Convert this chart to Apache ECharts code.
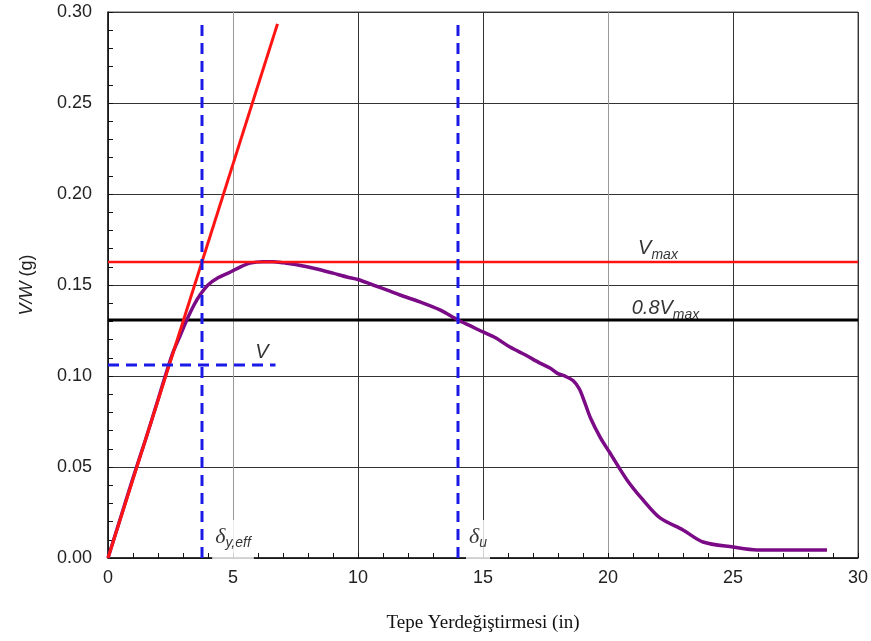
<!DOCTYPE html>
<html>
<head>
<meta charset="utf-8">
<script src="https://cdn.jsdelivr.net/npm/echarts@6/dist/echarts.min.js"></script>
<style>
  html, body { margin: 0; padding: 0; background: #fff; }
  #chart { width: 871px; height: 641px; }
</style>
</head>
<body>
<div id="chart"></div>
<script>
// pushover curve (tepe yerdegistirmesi vs V/W)
const curveX = [0, 0.5, 1.0, 1.5, 2.0, 2.36, 2.6, 2.88, 3.16, 3.44, 3.68, 4.0, 4.4, 4.88, 5.3, 5.68, 6.2, 6.6, 7.0, 7.6, 8.36, 9.0, 9.56, 10.0, 10.6, 11.2, 11.68, 12.48, 13.28, 14.0, 14.5, 15.0, 15.5, 16.08, 16.7, 17.28, 17.68, 17.96, 18.3, 18.6, 18.85, 19.05, 19.3, 19.7, 20.08, 20.76, 21.4, 22.08, 23.0, 23.8, 25.0, 25.96, 27.0, 28.76]
const curveY = [0, 0.022, 0.044, 0.065, 0.087, 0.103, 0.113, 0.122, 0.131, 0.139, 0.1445, 0.150, 0.154, 0.157, 0.160, 0.162, 0.1628, 0.1628, 0.1622, 0.161, 0.1588, 0.1565, 0.1544, 0.153, 0.150, 0.147, 0.1445, 0.1407, 0.1363, 0.1308, 0.1275, 0.1242, 0.121, 0.1159, 0.1115, 0.1071, 0.1044, 0.1016, 0.0998, 0.0975, 0.093, 0.0862, 0.0769, 0.066, 0.0577, 0.0429, 0.0319, 0.022, 0.0154, 0.0088, 0.006, 0.0044, 0.0044, 0.0044]

// idealized lines
const elasticLine = [[0, 0], [6.78, 0.2935]]
const vmax = 0.1626
const vmax08 = 0.1308
const deltaYeff = 3.76
const deltaU = 14.0
const vLevel = 0.106
const vLineEnd = 6.7
const dashTop = 0.293

// annotations: x, y, text
const annX = [6.16, 22.0, 22.3]
const annY = [0.113, 0.169, 0.136]
const annText = ['{i|V}', '{i|V}{s|max}', '{i|0.8V}{s|max}']

// displacement labels (sit on a white box over the grid)
const dispX = [5.0, 14.8]
const dispY = [0.0099, 0.0099]
const dispText = ['{d|δ}{s|y,eff}', '{d|δ}{s|u}']

function pairs(xs, ys) {
    let out = []
    for (let i = 0; i < xs.length; i++) {
        out.push([xs[i], ys[i]])
    }
    return out
}

function labelItems(xs, ys, texts) {
    let out = []
    for (let i = 0; i < xs.length; i++) {
        out.push({ value: [xs[i], ys[i]], label: { formatter: texts[i] } })
    }
    return out
}

const red = '#ff1414'
const blue = '#1a1ae6'
const purple = '#7b0a86'

const richText = {
    i: { fontFamily: 'Liberation Sans', fontStyle: 'italic', fontSize: 20, verticalAlign: 'top', color: '#000' },
    d: { fontFamily: 'Liberation Serif', fontStyle: 'italic', fontSize: 22, verticalAlign: 'top', color: '#000' },
    s: { fontFamily: 'Liberation Sans', fontStyle: 'italic', fontSize: 14, verticalAlign: 'top', padding: [10, 0, 0, 0], color: '#000' }
}

option = {
    animation: false,
    backgroundColor: '#fff',
    grid: {
        left: 108,
        right: 13,
        top: 12,
        bottom: 83,
        show: true,
        borderColor: '#555',
        borderWidth: 1
    },
    xAxis: {
        type: 'value',
        min: 0,
        max: 30,
        interval: 5,
        name: 'Tepe Yerdeğiştirmesi (in)',
        nameLocation: 'middle',
        nameGap: 56,
        nameTextStyle: { fontFamily: 'Liberation Serif', fontSize: 19, color: '#111' },
        axisLine: { onZero: false, lineStyle: { color: '#111', width: 1.5 } },
        axisTick: { inside: true, length: 5, lineStyle: { color: '#111' } },
        minorTick: { show: true, splitNumber: 5, length: 5, lineStyle: { color: '#111' } },
        axisLabel: { fontFamily: 'Liberation Sans', fontSize: 18, color: '#222', margin: 11 },
        splitLine: {
            show: true,
            lineStyle: { color: ['#333', '#999', '#333', '#333', '#999', '#333', '#333'], width: 1 }
        }
    },
    yAxis: {
        type: 'value',
        min: 0,
        max: 0.3,
        interval: 0.05,
        name: '{i|V/W} (g)',
        nameLocation: 'middle',
        nameGap: 72,
        nameTextStyle: {
            fontFamily: 'Liberation Sans', fontSize: 18, color: '#222',
            rich: { i: { fontFamily: 'Liberation Sans', fontStyle: 'italic', fontSize: 18, color: '#222' } }
        },
        axisLine: { show: true, lineStyle: { color: '#111', width: 1.5 } },
        axisTick: { inside: true, length: 5, lineStyle: { color: '#111' } },
        minorTick: { show: true, splitNumber: 5, length: 5, lineStyle: { color: '#111' } },
        axisLabel: {
            fontFamily: 'Liberation Sans', fontSize: 18, color: '#222', margin: 16,
            formatter: function (v) { return v.toFixed(2) }
        },
        splitLine: { show: true, lineStyle: { color: '#333', width: 1 } }
    },
    series: [
        {
            name: 'pushover',
            type: 'line',
            data: pairs(curveX, curveY),
            showSymbol: false,
            smooth: 0.3,
            lineStyle: { color: purple, width: 3.5 },
            z: 3
        },
        {
            name: 'Vmax',
            type: 'line',
            data: [[0, vmax], [30, vmax]],
            showSymbol: false,
            lineStyle: { color: red, width: 2.5 },
            z: 4
        },
        {
            name: '0.8Vmax',
            type: 'line',
            data: [[0, vmax08], [30, vmax08]],
            showSymbol: false,
            lineStyle: { color: '#000', width: 3 },
            z: 2
        },
        {
            name: 'elastic',
            type: 'line',
            data: elasticLine,
            showSymbol: false,
            lineStyle: { color: red, width: 3 },
            z: 5
        },
        {
            name: 'labels',
            type: 'scatter',
            symbolSize: 0,
            data: labelItems(annX, annY, annText),
            label: {
                show: true,
                position: 'inside',
                color: '#000',
                rich: richText
            },
            z: 7
        },
        {
            name: 'dispLabels',
            type: 'scatter',
            symbolSize: 0,
            data: labelItems(dispX, dispY, dispText),
            label: {
                show: true,
                position: 'inside',
                color: '#000',
                backgroundColor: '#fff',
                padding: [6, 3, 10, 3],
                rich: richText
            },
            z: 5
        },
        {
            name: 'dyeff',
            type: 'line',
            data: [[deltaYeff, 0], [deltaYeff, dashTop]],
            showSymbol: false,
            lineStyle: { color: blue, width: 3, type: [11, 7] },
            z: 8
        },
        {
            name: 'du',
            type: 'line',
            data: [[deltaU, 0], [deltaU, dashTop]],
            showSymbol: false,
            lineStyle: { color: blue, width: 3, type: [11, 7] },
            z: 8
        },
        {
            name: 'V',
            type: 'line',
            data: [[0, vLevel], [vLineEnd, vLevel]],
            showSymbol: false,
            lineStyle: { color: blue, width: 3, type: [11, 7] },
            z: 8
        }
    ]
}

const dom = document.getElementById('chart')
const myChart = echarts.init(dom)
if (option && typeof option === 'object') {
    myChart.setOption(option, true)
}
</script>
</body>
</html>
